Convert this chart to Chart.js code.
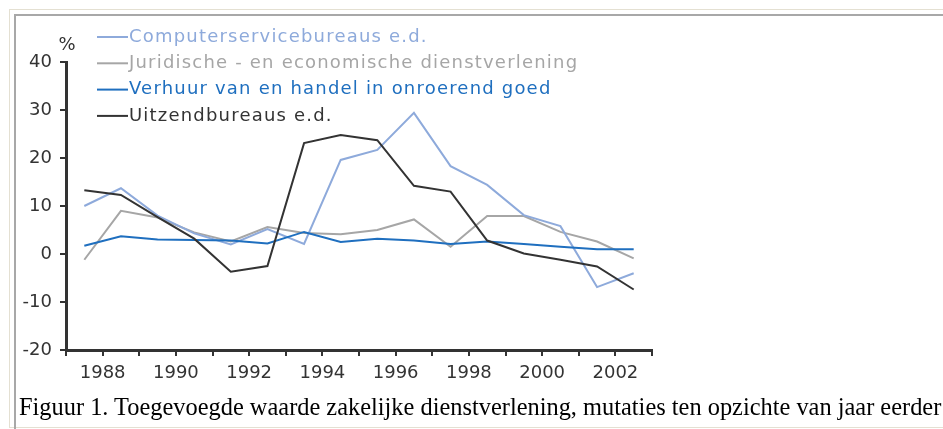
<!DOCTYPE html>
<html>
<head>
<meta charset="utf-8">
<script src="https://cdn.jsdelivr.net/npm/chart.js@4.4.1/dist/chart.umd.min.js"></script>
<style>
  html, body { margin: 0; padding: 0; background: #fff; }
  #wrap { position: relative; width: 943px; height: 429px; overflow: hidden; }
  #outer { position: absolute; left: 9px; top: 9px; width: 1000px; height: 417px; border: 1px solid #e4e0d2; }
  #inner { position: absolute; left: 14px; top: 14px; width: 1000px; height: 420px; border-left: 2px solid #a8a8a8; border-top: 2px solid #a8a8a8; }
  canvas { position: absolute; left: 0; top: 0; }
  #caption { position: absolute; left: 19px; top: 395px; font: 24.4px "Liberation Serif", "Times New Roman", serif; line-height: 24px; color: #000; white-space: nowrap; }
</style>
</head>
<body>
<div id="wrap">
  <div id="outer"></div>
  <div id="inner"></div>
  <canvas id="chart" width="943" height="429"></canvas>
  <div id="caption">Figuur 1. Toegevoegde waarde zakelijke dienstverlening, mutaties ten opzichte van jaar eerder</div>
</div>
<script>
// jaren (jaarcijfers, geplot halverwege het jaar)
const jaren = [1987, 1988, 1989, 1990, 1991, 1992, 1993, 1994, 1995, 1996, 1997, 1998, 1999, 2000, 2001, 2002];

// reeksen, % mutatie t.o.v. jaar eerder
const computer  = [10.0, 13.7, 8.0, 4.3, 2.0, 5.2, 2.1, 19.6, 21.7, 29.4, 18.3, 14.4, 8.1, 5.8, -6.9, -4.0];
const juridisch = [-1.2, 9.0, 7.6, 4.5, 2.6, 5.6, 4.4, 4.1, 5.0, 7.2, 1.5, 7.9, 7.9, 4.6, 2.6, -0.9];
const verhuur   = [1.7, 3.7, 3.0, 2.9, 2.8, 2.2, 4.6, 2.5, 3.2, 2.8, 2.1, 2.6, 2.1, 1.5, 1.0, 1.0];
const uitzend   = [13.3, 12.3, 7.7, 3.2, -3.7, -2.5, 23.1, 24.8, 23.7, 14.2, 13.0, 2.8, 0.1, -1.2, -2.6, -7.4];

const namen = [
    "Computerservicebureaus e.d.",
    "Juridische - en economische dienstverlening",
    "Verhuur van en handel in onroerend goed",
    "Uitzendbureaus e.d."
];
const kleuren = ['#8eaadb', '#a6a6a6', '#1f6fbf', '#333333'];

// as-labels
const yTicks = [-20, -10, 0, 10, 20, 30, 40];
const xLabelJaren = [1988, 1990, 1992, 1994, 1996, 1998, 2000, 2002];

const punten = (reeks) => reeks.map((v, i) => ({ x: jaren[i] + 0.5, y: v }));

const tickFont = { family: 'DejaVu Sans', size: 18 };

// eigen legenda + "%" label
const legendaPlugin = {
    id: 'legenda',
    afterDraw(chart) {
        const ctx = chart.ctx;
        ctx.save();
        ctx.font = '18px "DejaVu Sans"';
        ctx.textBaseline = 'middle';
        ctx.letterSpacing = '1.2px';
        chart.data.datasets.forEach((ds, i) => {
            const y = 37 + i * 26.3;
            ctx.strokeStyle = ds.borderColor;
            ctx.lineWidth = 2;
            ctx.beginPath();
            ctx.moveTo(97, y);
            ctx.lineTo(128, y);
            ctx.stroke();
            ctx.fillStyle = ds.borderColor;
            ctx.fillText(ds.label, 129, y);
        });
        ctx.letterSpacing = '0px';
        ctx.fillStyle = '#333';
        ctx.textAlign = 'center';
        ctx.fillText('%', chart.chartArea.left + 1, 45);
        ctx.restore();
    }
};

const ctx = document.getElementById('chart').getContext('2d');
const chart = new Chart(ctx, {
    type: 'line',
    data: {
        datasets: [
            { label: namen[0], data: punten(computer),  borderColor: kleuren[0], order: 2 },
            { label: namen[1], data: punten(juridisch), borderColor: kleuren[1], order: 3 },
            { label: namen[2], data: punten(verhuur),   borderColor: kleuren[2], order: 1 },
            { label: namen[3], data: punten(uitzend),   borderColor: kleuren[3], order: 0 }
        ].map(ds => Object.assign(ds, { borderWidth: 2, pointRadius: 0, tension: 0, fill: false }))
    },
    options: {
        responsive: false,
        animation: false,
        devicePixelRatio: 1,
        layout: { padding: { left: 0, top: 62, right: 291, bottom: 39 } },
        plugins: {
            legend: { display: false },
            tooltip: { enabled: false }
        },
        scales: {
            x: {
                type: 'linear',
                min: 1987,
                max: 2003,
                ticks: {
                    stepSize: 1,
                    autoSkip: false,
                    maxRotation: 0,
                    padding: 7,
                    color: '#333',
                    font: tickFont,
                    callback: (v) => xLabelJaren.includes(v) ? String(v) : ''
                },
                grid: { drawOnChartArea: false, drawTicks: true, tickLength: 6, color: '#333', lineWidth: 2 },
                border: { display: true, color: '#333', width: 3 },
                afterFit: (s) => { s.height = 40; }
            },
            y: {
                min: -20,
                max: 40,
                afterBuildTicks: (s) => { s.ticks = yTicks.map(v => ({ value: v })); },
                ticks: {
                    padding: 8,
                    color: '#333',
                    font: tickFont
                },
                grid: { drawOnChartArea: false, drawTicks: true, tickLength: 6, color: '#333', lineWidth: 2 },
                border: { display: true, color: '#333', width: 3 },
                afterFit: (s) => { s.width = 66; }
            }
        }
    },
    plugins: [legendaPlugin]
});
</script>
</body>
</html>
